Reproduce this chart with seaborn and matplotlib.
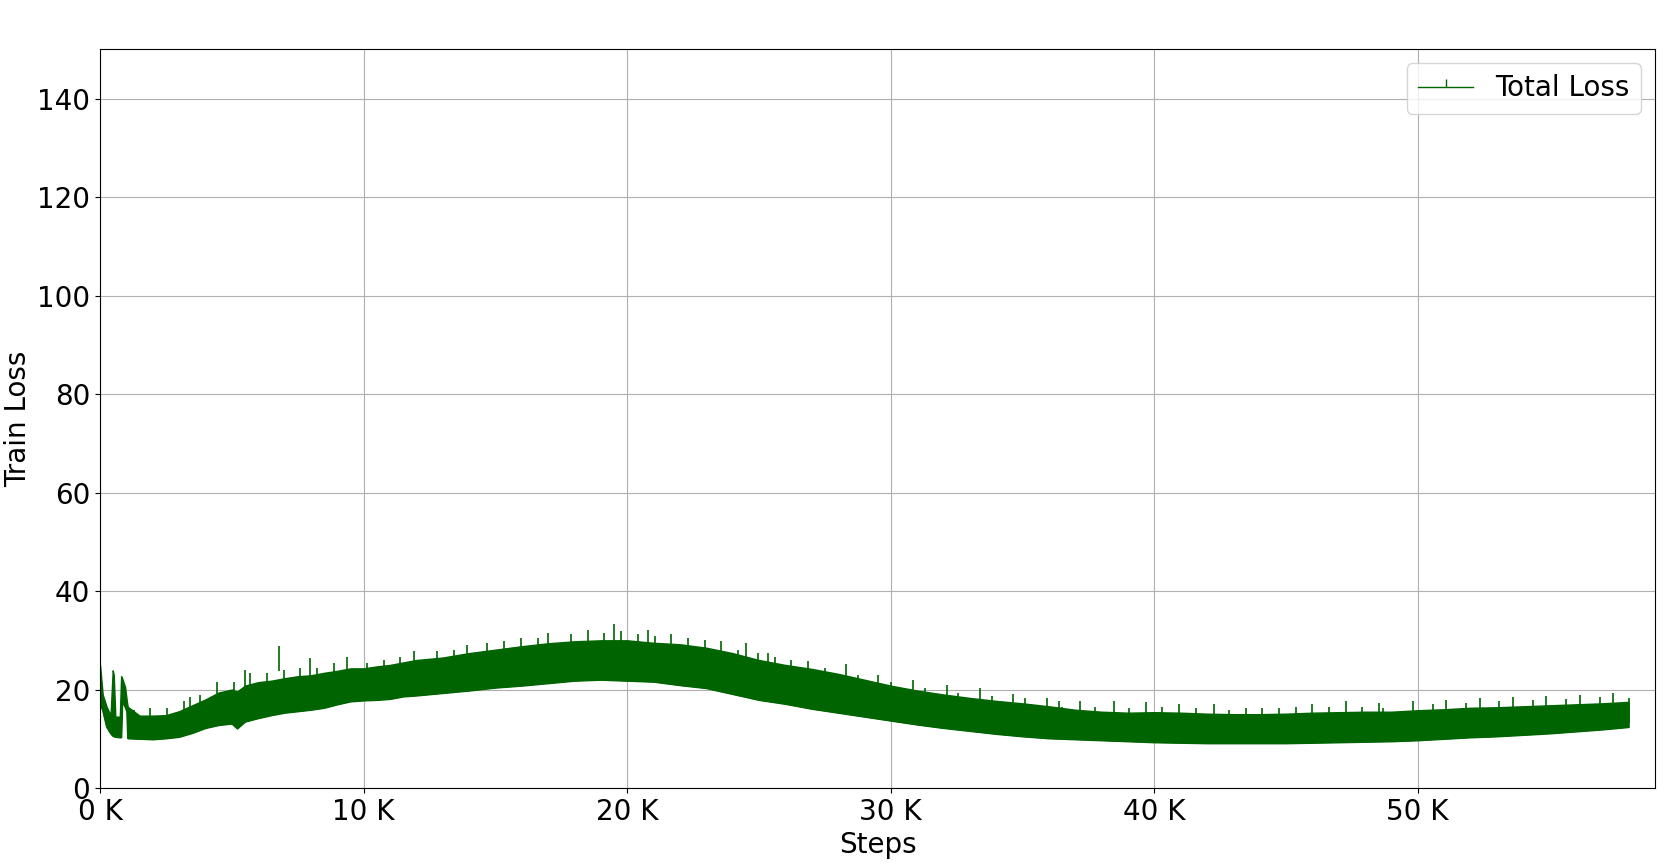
import matplotlib
matplotlib.use("Agg")
import matplotlib.pyplot as plt
from matplotlib.ticker import FuncFormatter
import numpy as np
import seaborn as sns

# values (steps in thousands)
steps_k = [0, 0.1, 0.25, 0.4, 0.48, 0.52, 0.58, 0.75, 0.8, 0.84, 0.95, 1.02, 1.05,
           1.5, 2, 2.5, 3, 3.5, 4, 4.5, 5, 5.2, 5.5, 6, 6.5, 7, 7.5, 8, 8.5, 9, 9.5,
           10, 10.5, 11, 11.5, 12, 13, 14, 15, 16, 17, 18, 19, 20, 21, 22, 23, 24,
           25, 26, 27, 28, 29, 30, 31, 32, 33, 34, 35, 36, 37, 38, 39, 40, 41, 42,
           43, 44, 45, 46, 47, 48, 49, 50, 51, 52, 53, 54, 55, 56, 57, 58]
# lower edge of the band
loss_low = [17, 15.8, 12.4, 11.1, 10.6, 10.5, 10.4, 10.3, 10.3, 17.6, 16.5, 15.5, 10.1,
            10.0, 9.9, 10.1, 10.4, 11.2, 12.2, 12.8, 13.1, 12.1, 13.5, 14.2, 14.8, 15.3, 15.6, 15.9, 16.3, 17.0, 17.6,
            17.8, 17.9, 18.1, 18.6, 18.8, 19.3, 19.8, 20.4, 20.8, 21.3, 21.8, 22.0, 21.8, 21.6, 20.9, 20.3, 19.1,
            17.9, 17.1, 16.1, 15.3, 14.5, 13.7, 12.9, 12.2, 11.6, 11.0, 10.5, 10.1, 9.9, 9.7, 9.5, 9.3, 9.2, 9.1,
            9.1, 9.1, 9.1, 9.2, 9.3, 9.4, 9.5, 9.7, 10.0, 10.3, 10.5, 10.8, 11.1, 11.5, 11.9, 12.4]
# top of the dense part of the band
loss_high = [25, 19, 16.5, 14.8, 23.9, 23.0, 14.5, 14.5, 22.7, 22.3, 20.5, 17.5, 16.5,
             14.7, 14.7, 14.8, 15.6, 16.8, 18.0, 19.4, 20.0, 19.6, 20.8, 21.5, 21.8, 22.3, 22.7, 22.9, 23.4, 23.8, 24.3,
             24.3, 24.7, 25.0, 25.5, 26.0, 26.5, 27.4, 28.1, 28.8, 29.4, 29.8, 30.0, 30.0, 29.5, 29.2, 28.5, 27.4,
             26.0, 25.0, 24.2, 23.2, 22.0, 20.8, 19.8, 19.0, 18.3, 17.7, 17.2, 16.6, 15.9, 15.5, 15.3, 15.4, 15.3, 15.1,
             15.0, 15.0, 15.1, 15.3, 15.4, 15.5, 15.5, 15.8, 16.0, 16.3, 16.4, 16.6, 16.8, 17.0, 17.2, 17.5]

# spike tips above the band
spike_steps_k = [1.27, 1.9, 2.53, 3.17, 3.42, 3.8, 4.44, 5.07, 5.51, 5.7, 6.34, 6.78, 6.97, 7.6, 7.96,
                 8.24, 8.87, 9.38, 10.14, 10.77, 11.4, 11.91,
                 12.8, 13.44, 13.94, 14.7, 15.34, 15.97, 16.6, 16.99, 17.87, 18.5, 19.14, 19.5, 19.77,
                 20.4, 20.79, 21.04, 21.68, 22.31, 22.94, 23.58, 24.2,
                 24.52, 24.96, 25.34, 25.6, 26.23, 26.86, 27.5, 28.32, 28.77, 29.53, 30.03, 30.86, 31.3,
                 32.12, 32.57, 33.39, 33.84, 34.66, 35.1, 35.93, 36.37,
                 36.5, 37.2, 37.77, 38.46, 39.03, 39.67, 40.3, 40.94, 41.57, 42.27, 42.84, 43.47, 44.1,
                 44.74, 45.37, 46.0, 46.64, 47.27, 47.9, 48.54,
                 48.67, 49.81, 50.57, 51.08, 51.84, 52.35, 53.1, 53.61, 54.37, 54.88, 55.64, 56.15,
                 56.91, 57.42, 58.0]
spike_tops = [15.9, 16.3, 16.2, 17.6, 18.4, 18.9, 21.6, 21.6, 24.0, 23.3, 23.3, 28.8, 24.0, 24.4, 26.4,
              24.4, 25.4, 26.7, 25.4, 26.1, 26.7, 27.8,
              27.8, 28.1, 29.1, 29.5, 29.9, 30.5, 30.5, 31.5, 31.2, 32.0, 31.5, 33.3, 31.8,
              31.2, 32.0, 30.8, 31.2, 30.5, 30.1, 29.8, 28.1,
              29.5, 27.4, 27.4, 26.7, 26.1, 25.7, 24.4, 25.2, 23.0, 23.0, 21.6, 22.0, 20.3,
              21.0, 19.3, 20.3, 18.6, 19.0, 18.2, 18.2, 17.6,
              16.5, 17.7, 16.5, 17.7, 16.3, 17.4, 16.5, 17.0, 16.2, 17.0, 15.9, 16.3, 16.3,
              16.3, 16.5, 17.0, 16.5, 17.6, 16.5, 17.2,
              16.2, 17.6, 17.0, 17.9, 17.2, 18.2, 17.6, 18.4, 17.9, 18.6, 18.1, 18.8,
              18.4, 19.3, 18.2]

steps = np.array(steps_k) * 1000
green = "darkgreen"

fig = plt.figure(figsize=(16.73, 8.65), dpi=100)
ax = fig.add_axes([0.0598, 0.089, 0.9294, 0.8538])

ax.fill_between(steps, loss_low, loss_high, color=green, lw=1)
tops = np.array(spike_tops)
ax.vlines(np.array(spike_steps_k) * 1000, tops - 5, tops, color=green, lw=1.2)
sns.lineplot(x=steps, y=loss_low, color=green, lw=1, marker=2, markersize=6,
             markeredgecolor=green, markeredgewidth=1, markevery=[0],
             label="Total Loss", ax=ax)

ax.set_xlim(0, 59000)
ax.set_ylim(0, 150)
ax.set_yticks(np.arange(0, 141, 20))
ax.set_xticks(np.arange(0, 50001, 10000))
ax.xaxis.set_major_formatter(FuncFormatter(lambda v, p: f"{int(v / 1000)} K"))
ax.tick_params(labelsize=20)
ax.set_xlabel("Steps", fontsize=20)
ax.set_ylabel("Train Loss", fontsize=20)
ax.grid(True, color="#b0b0b0", lw=0.8)
ax.set_axisbelow(True)
ax.legend(loc="upper right", fontsize=20)

fig.savefig("out.png", dpi=100)
